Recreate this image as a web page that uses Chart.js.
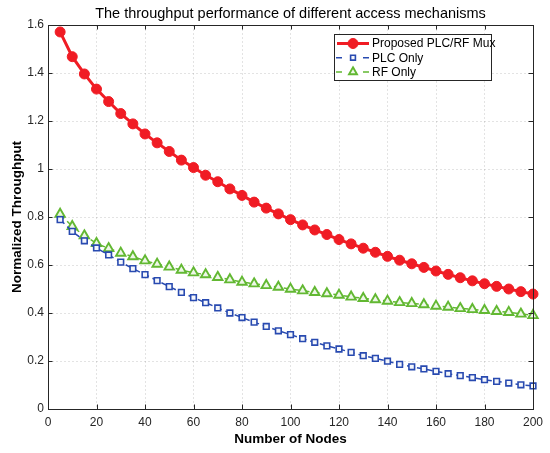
<!DOCTYPE html>
<html>
<head>
<meta charset="utf-8">
<script src="https://cdn.jsdelivr.net/npm/chart.js@4.4.0/dist/chart.umd.min.js"></script>
<style>
html, body { margin: 0; padding: 0; background: #fff; }
#wrap { width: 550px; height: 453px; }
</style>
</head>
<body>
<div id="wrap"><canvas id="throughputChart" width="550" height="453"></canvas></div>
<script>
// values
const nodes = [5, 10, 15, 20, 25, 30, 35, 40, 45, 50, 55, 60, 65, 70, 75, 80, 85, 90, 95, 100,
    105, 110, 115, 120, 125, 130, 135, 140, 145, 150, 155, 160, 165, 170, 175, 180, 185, 190, 195, 200];
const muxValues = [1.571, 1.468, 1.396, 1.333, 1.281, 1.231, 1.188, 1.146, 1.109, 1.073,
    1.037, 1.006, 0.974, 0.947, 0.917, 0.890, 0.862, 0.837, 0.813, 0.789,
    0.767, 0.746, 0.727, 0.706, 0.688, 0.670, 0.653, 0.636, 0.620, 0.605,
    0.590, 0.575, 0.561, 0.547, 0.534, 0.522, 0.511, 0.500, 0.489, 0.479];
const plcValues = [0.789, 0.740, 0.701, 0.671, 0.642, 0.612, 0.585, 0.560, 0.535, 0.510,
    0.486, 0.464, 0.443, 0.421, 0.400, 0.381, 0.362, 0.344, 0.326, 0.310,
    0.293, 0.278, 0.263, 0.250, 0.236, 0.222, 0.211, 0.199, 0.186, 0.176,
    0.167, 0.157, 0.147, 0.139, 0.131, 0.122, 0.115, 0.108, 0.101, 0.096];
const rfValues = [0.812, 0.761, 0.722, 0.690, 0.669, 0.650, 0.635, 0.618, 0.604, 0.592,
    0.579, 0.568, 0.560, 0.549, 0.539, 0.529, 0.522, 0.515, 0.508, 0.500,
    0.493, 0.486, 0.481, 0.475, 0.467, 0.461, 0.456, 0.450, 0.444, 0.440,
    0.435, 0.429, 0.425, 0.419, 0.415, 0.411, 0.407, 0.403, 0.396, 0.390];
const seriesNames = ['Proposed PLC/RF Mux', 'PLC Only', 'RF Only'];
const xTicks = [0, 20, 40, 60, 80, 100, 120, 140, 160, 180, 200];
const yTicks = [0, 0.2, 0.4, 0.6, 0.8, 1, 1.2, 1.4, 1.6];
const chartTitle = 'The throughput performance of different access mechanisms';

const FONT = "'Liberation Sans', Arial, Helvetica, sans-serif";
const AXIS_COLOR = '#262626';

function toPoints(values) {
    return nodes.map((n, i) => ({ x: n, y: values[i] }));
}

// title centred over the plot, like matlab does it
const titlePlugin = {
    id: 'plotTitle',
    afterDraw(chart) {
        const ctx = chart.ctx;
        const area = chart.chartArea;
        ctx.save();
        ctx.font = '14.5px ' + FONT;
        ctx.fillStyle = '#000';
        ctx.textAlign = 'center';
        ctx.textBaseline = 'middle';
        ctx.fillText(chartTitle, (area.left + area.right) / 2, 14);
        ctx.restore();
    }
};

// box around the axes with ticks pointing inward on all four sides
const boxPlugin = {
    id: 'axesBox',
    afterDatasetsDraw(chart) {
        const ctx = chart.ctx;
        const a = chart.chartArea;
        const xs = chart.scales.x, ys = chart.scales.y;
        const len = 4.5;
        ctx.save();
        ctx.strokeStyle = AXIS_COLOR;
        ctx.lineWidth = 1;
        ctx.beginPath();
        xTicks.forEach(v => {
            const px = Math.round(xs.getPixelForValue(v)) + 0.5;
            ctx.moveTo(px, a.bottom); ctx.lineTo(px, a.bottom - len);
            ctx.moveTo(px, a.top); ctx.lineTo(px, a.top + len);
        });
        yTicks.forEach(v => {
            const py = Math.round(ys.getPixelForValue(v)) + 0.5;
            ctx.moveTo(a.left, py); ctx.lineTo(a.left + len, py);
            ctx.moveTo(a.right, py); ctx.lineTo(a.right - len, py);
        });
        ctx.stroke();
        ctx.strokeRect(Math.round(a.left) + 0.5, Math.round(a.top) + 0.5,
            Math.round(a.right - a.left), Math.round(a.bottom - a.top));
        ctx.restore();
    }
};

// matlab style legend: line sample + marker + text inside a framed box
const legendPlugin = {
    id: 'boxLegend',
    afterDraw(chart) {
        const ctx = chart.ctx;
        const bx = 334, by = 34, bw = 157, bh = 46;
        const rowH = 14.2;
        ctx.save();
        ctx.fillStyle = '#fff';
        ctx.fillRect(bx, by, bw, bh);
        ctx.strokeStyle = '#262626';
        ctx.lineWidth = 1;
        ctx.strokeRect(bx + 0.5, by + 0.5, bw, bh);
        chart.data.datasets.forEach((ds, i) => {
            const y = by + 9.5 + i * rowH;
            ctx.setLineDash([]);
            ctx.strokeStyle = ds.borderColor;
            ctx.lineWidth = ds.borderWidth;
            ctx.beginPath();
            if (ds.borderDash && ds.borderDash.length) {
                ctx.moveTo(bx + 2, y); ctx.lineTo(bx + 8, y);
                ctx.moveTo(bx + 29, y); ctx.lineTo(bx + 35, y);
            } else {
                ctx.moveTo(bx + 3, y); ctx.lineTo(bx + 35, y);
            }
            ctx.stroke();
            ctx.fillStyle = ds.pointBackgroundColor;
            ctx.strokeStyle = ds.borderColor;
            ctx.lineWidth = ds.pointBorderWidth;
            Chart.helpers.drawPoint(ctx, {
                pointStyle: ds.pointStyle,
                radius: ds.pointStyle === 'circle' ? ds.pointRadius : ds.pointRadius * 0.85,
                rotation: 0,
                borderWidth: ds.pointBorderWidth
            }, bx + 19, y);
            ctx.fillStyle = '#000';
            ctx.font = '12px ' + FONT;
            ctx.textAlign = 'left';
            ctx.textBaseline = 'middle';
            ctx.fillText(ds.label, bx + 38, y + 0.5);
        });
        ctx.restore();
    }
};

function initThroughputChart() {
    const data = {
        datasets: [{
            label: seriesNames[0],
            data: toPoints(muxValues),
            borderColor: 'rgb(240, 28, 36)',
            backgroundColor: 'rgb(240, 28, 36)',
            pointBackgroundColor: 'rgb(240, 28, 36)',
            borderWidth: 3,
            pointStyle: 'circle',
            pointRadius: 5,
            pointBorderWidth: 1
        }, {
            label: seriesNames[1],
            data: toPoints(plcValues),
            borderColor: 'rgb(40, 74, 176)',
            backgroundColor: '#fff',
            pointBackgroundColor: '#f4f6fb',
            borderWidth: 1.5,
            borderDash: [6, 4],
            pointStyle: 'rect',
            pointRadius: 4,
            pointBorderWidth: 1.6
        }, {
            label: seriesNames[2],
            data: toPoints(rfValues),
            borderColor: 'rgb(98, 184, 50)',
            backgroundColor: '#fff',
            pointBackgroundColor: '#eef7e8',
            borderWidth: 1.5,
            borderDash: [6, 4],
            pointStyle: 'triangle',
            pointRadius: 5.4,
            pointBorderWidth: 1.9
        }]
    };

    const gridCfg = { color: 'rgba(0,0,0,0.11)', drawTicks: false, lineWidth: 1 };
    const borderCfg = { display: false, dash: [2, 2] };

    const config = {
        type: 'line',
        data,
        options: {
            responsive: false,
            animation: false,
            layout: { padding: { top: 25, right: 17, left: 0, bottom: 0 } },
            datasets: { line: { tension: 0, clip: false } },
            plugins: {
                legend: { display: false },
                title: { display: false },
                tooltip: { enabled: false }
            },
            scales: {
                x: {
                    type: 'linear',
                    min: 0,
                    max: 200,
                    afterBuildTicks: scale => { scale.ticks = xTicks.map(v => ({ value: v })); },
                    afterFit: scale => { scale.height = 44; },
                    grid: gridCfg,
                    border: borderCfg,
                    ticks: {
                        color: AXIS_COLOR, font: { family: FONT, size: 12 }, padding: 6, maxRotation: 0,
                        callback: v => String(v)
                    },
                    title: {
                        display: true,
                        text: 'Number of Nodes',
                        color: '#000',
                        font: { family: FONT, size: 13.5, weight: 'bold' },
                        padding: { top: 0, bottom: 6 }
                    }
                },
                y: {
                    type: 'linear',
                    min: 0,
                    max: 1.6,
                    afterBuildTicks: scale => { scale.ticks = yTicks.map(v => ({ value: v })); },
                    afterFit: scale => { scale.width = 48; },
                    grid: gridCfg,
                    border: borderCfg,
                    ticks: {
                        color: AXIS_COLOR, font: { family: FONT, size: 12 }, padding: 4,
                        callback: v => String(v)
                    },
                    title: {
                        display: true,
                        text: 'Normalized Throughput',
                        color: '#000',
                        font: { family: FONT, size: 13.5, weight: 'bold' },
                        padding: { top: 9, bottom: 0 }
                    }
                }
            }
        },
        plugins: [titlePlugin, boxPlugin, legendPlugin]
    };

    new Chart(document.getElementById('throughputChart'), config);
}

initThroughputChart();
</script>
</body>
</html>
